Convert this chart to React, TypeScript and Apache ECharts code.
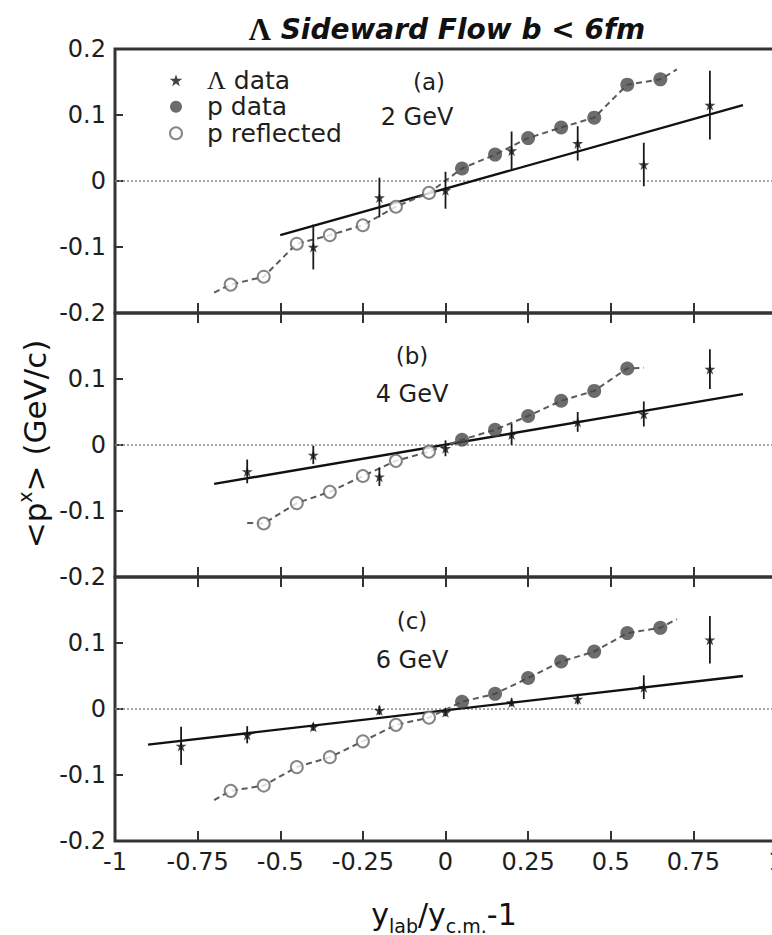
import React, { useEffect, useRef } from 'react';
import * as echarts from 'echarts';

// Axis ranges shared by all three panels
const X_RANGE = [-1, 1];
const X_STEP = 0.25;
const Y_RANGE = [-0.2, 0.2];
const Y_STEP = 0.1;

const panelTags = ['(a)', '(b)', '(c)'];
const beamEnergies = ['2 GeV', '4 GeV', '6 GeV'];
const seriesNames = ['Λ data', 'p data', 'p reflected'];

// ---- Panel (a): 2 GeV ----
const lambdaX_a = [-0.4, -0.2, 0, 0.2, 0.4, 0.6, 0.8];
const lambdaY_a = [-0.1, -0.025, -0.014, 0.046, 0.057, 0.025, 0.115];
const lambdaErr_a = [0.034, 0.03, 0.028, 0.029, 0.026, 0.033, 0.052];
const protonX_a = [0.05, 0.15, 0.25, 0.35, 0.45, 0.55, 0.65];
const protonY_a = [0.019, 0.04, 0.065, 0.081, 0.096, 0.146, 0.154];
const reflectedX_a = [-0.65, -0.55, -0.45, -0.35, -0.25, -0.15, -0.05];
const reflectedY_a = [-0.157, -0.145, -0.095, -0.082, -0.067, -0.039, -0.018];
const protonCurveEnds_a = [[-0.7, -0.169], [0.7, 0.169]];
const lambdaFit_a = [[-0.5, -0.082], [0.9, 0.115]];

// ---- Panel (b): 4 GeV ----
const lambdaX_b = [-0.6, -0.4, -0.2, 0, 0.2, 0.4, 0.6, 0.8];
const lambdaY_b = [-0.04, -0.015, -0.048, -0.005, 0.016, 0.035, 0.047, 0.115];
const lambdaErr_b = [0.018, 0.014, 0.014, 0.012, 0.016, 0.015, 0.019, 0.03];
const protonX_b = [0.05, 0.15, 0.25, 0.35, 0.45, 0.55];
const protonY_b = [0.008, 0.023, 0.044, 0.067, 0.082, 0.116];
const reflectedX_b = [-0.55, -0.45, -0.35, -0.25, -0.15, -0.05];
const reflectedY_b = [-0.119, -0.088, -0.071, -0.047, -0.024, -0.01];
const protonCurveEnds_b = [[-0.6, -0.118], [0.6, 0.117]];
const lambdaFit_b = [[-0.7, -0.059], [0.9, 0.077]];

// ---- Panel (c): 6 GeV ----
const lambdaX_c = [-0.8, -0.6, -0.4, -0.2, 0, 0.2, 0.4, 0.6, 0.8];
const lambdaY_c = [-0.056, -0.039, -0.027, -0.002, -0.005, 0.01, 0.015, 0.033, 0.105];
const lambdaErr_c = [0.029, 0.013, 0.006, 0.007, 0.006, 0.006, 0.008, 0.018, 0.036];
const protonX_c = [0.05, 0.15, 0.25, 0.35, 0.45, 0.55, 0.65];
const protonY_c = [0.011, 0.023, 0.047, 0.072, 0.087, 0.115, 0.123];
const reflectedX_c = [-0.65, -0.55, -0.45, -0.35, -0.25, -0.15, -0.05];
const reflectedY_c = [-0.124, -0.116, -0.088, -0.073, -0.049, -0.024, -0.013];
const protonCurveEnds_c = [[-0.7, -0.138], [0.7, 0.136]];
const lambdaFit_c = [[-0.9, -0.054], [0.9, 0.05]];

const panels = [
  {
    lamX: lambdaX_a, lamY: lambdaY_a, lamErr: lambdaErr_a,
    pX: protonX_a, pY: protonY_a, rX: reflectedX_a, rY: reflectedY_a,
    curveEnds: protonCurveEnds_a, fit: lambdaFit_a,
  },
  {
    lamX: lambdaX_b, lamY: lambdaY_b, lamErr: lambdaErr_b,
    pX: protonX_b, pY: protonY_b, rX: reflectedX_b, rY: reflectedY_b,
    curveEnds: protonCurveEnds_b, fit: lambdaFit_b,
  },
  {
    lamX: lambdaX_c, lamY: lambdaY_c, lamErr: lambdaErr_c,
    pX: protonX_c, pY: protonY_c, rX: reflectedX_c, rY: reflectedY_c,
    curveEnds: protonCurveEnds_c, fit: lambdaFit_c,
  },
];

// Layout (pixels)
const GRID_LEFT = 115;
const GRID_WIDTH = 661;
const PANEL_TOPS = [49, 313, 577];
const PANEL_HEIGHT = 264;
const TAG_POS = [[429, 82], [412, 356], [412, 621]];
const ENERGY_POS = [[417, 117], [412, 394], [412, 660]];

const FONT = 'DejaVu Sans';
const INK = '#1e1e1e';
const FRAME = '#333';
const STAR =
  'path://M50,0 L61,35 L98,35 L68,57 L79,91 L50,70 L21,91 L32,57 L2,35 L39,35 Z';

const zip = (xs: number[], ys: number[]) => xs.map((x, i) => [x, ys[i]]);

function buildOption() {
  const grid = PANEL_TOPS.map((top) => ({
    left: GRID_LEFT,
    top,
    width: GRID_WIDTH,
    height: PANEL_HEIGHT,
    containLabel: false,
    outerBoundsMode: 'none',
    show: true,
    borderWidth: 3,
    borderColor: FRAME,
    backgroundColor: 'transparent',
  }));

  const baseX = {
    type: 'value',
    min: X_RANGE[0],
    max: X_RANGE[1],
    interval: X_STEP,
    splitLine: { show: false },
    axisLine: { show: false, onZero: false },
  };

  const xAxis: any[] = [];
  // bottom axes
  panels.forEach((_, i) => {
    xAxis.push({
      ...baseX,
      gridIndex: i,
      position: 'bottom',
      axisTick: { show: true, inside: true, length: 10, lineStyle: { width: 2, color: FRAME } },
      axisLabel: {
        show: i === 2,
        fontFamily: FONT,
        fontSize: 24,
        color: INK,
        margin: 9,
      },
    });
  });
  // top axes
  panels.forEach((_, i) => {
    xAxis.push({
      ...baseX,
      gridIndex: i,
      position: 'top',
      axisTick: { show: i > 0, inside: true, length: 10, lineStyle: { width: 2, color: FRAME } },
      axisLabel: { show: false },
    });
  });

  const yAxis = panels.map((_, i) => ({
    type: 'value',
    gridIndex: i,
    position: 'left',
    min: Y_RANGE[0],
    max: Y_RANGE[1],
    interval: Y_STEP,
    splitLine: { show: false },
    axisLine: { show: false, onZero: false },
    axisTick: { show: true, inside: true, length: 8, lineStyle: { width: 2, color: FRAME } },
    axisLabel: {
      fontFamily: FONT,
      fontSize: 24,
      color: INK,
      margin: 9,
      showMaxLabel: i === 0,
    },
  }));

  const series: any[] = [];
  panels.forEach((p, i) => {
    const axes = { xAxisIndex: i, yAxisIndex: i };
    // y = 0 reference line
    series.push({
      type: 'line',
      ...axes,
      data: [[X_RANGE[0], 0], [X_RANGE[1], 0]],
      symbol: 'none',
      silent: true,
      z: 1,
      lineStyle: { color: '#8a8a8a', width: 1.5, type: [2, 2] },
    });
    // straight-line fit to the Λ points
    series.push({
      type: 'line',
      ...axes,
      data: p.fit,
      symbol: 'none',
      silent: true,
      z: 2,
      lineStyle: { color: '#111', width: 2.4 },
    });
    // dashed guide through the proton points
    series.push({
      type: 'line',
      ...axes,
      data: [p.curveEnds[0], ...zip(p.rX, p.rY), ...zip(p.pX, p.pY), p.curveEnds[1]],
      symbol: 'none',
      silent: true,
      z: 2,
      lineStyle: { color: '#5a5a5a', width: 2, type: [6, 4] },
    });
    // Λ error bars
    series.push({
      type: 'custom',
      name: 'Λ errors',
      ...axes,
      z: 3,
      data: p.lamX.map((x, k) => [x, p.lamY[k], p.lamErr[k]]),
      encode: { x: 0, y: 1 },
      renderItem: (_params: any, api: any) => {
        const x = api.value(0);
        const y = api.value(1);
        const e = api.value(2);
        const hi = api.coord([x, y + e]);
        const lo = api.coord([x, y - e]);
        return {
          type: 'line',
          shape: { x1: hi[0], y1: hi[1], x2: lo[0], y2: lo[1] },
          style: { stroke: '#1a1a1a', lineWidth: 1.8 },
        };
      },
    });
    // Λ points
    series.push({
      type: 'scatter',
      name: seriesNames[0],
      ...axes,
      z: 5,
      data: zip(p.lamX, p.lamY),
      symbol: STAR,
      symbolSize: 11,
      itemStyle: { color: '#141414' },
    });
    // proton data
    series.push({
      type: 'scatter',
      name: seriesNames[1],
      ...axes,
      z: 5,
      data: zip(p.pX, p.pY),
      symbol: 'circle',
      symbolSize: 14,
      itemStyle: { color: '#474747' },
    });
    // reflected protons
    series.push({
      type: 'scatter',
      name: seriesNames[2],
      ...axes,
      z: 5,
      data: zip(p.rX, p.rY),
      symbol: 'emptyCircle',
      symbolSize: 12,
      itemStyle: { color: '#666', borderWidth: 1.6 },
    });
  });

  const graphic: any[] = [
    {
      type: 'text',
      x: 447,
      y: 29,
      silent: true,
      style: {
        text: '{l|Λ} Sideward Flow b < 6fm',
        fontFamily: FONT,
        fontSize: 28,
        fontWeight: 'bold',
        fontStyle: 'italic',
        fill: '#111',
        align: 'center',
        verticalAlign: 'middle',
        rich: {
          l: {
            fontFamily: 'Liberation Serif',
            fontSize: 31,
            fontWeight: 'bold',
            fontStyle: 'normal',
            fill: '#111',
          },
        },
      },
    },
    {
      type: 'text',
      x: 35,
      y: 444,
      rotation: Math.PI / 2,
      silent: true,
      style: {
        text: '{m|<p}{s|x}{m|> (GeV/c)}',
        align: 'center',
        verticalAlign: 'middle',
        fill: '#111',
        rich: {
          m: { fontFamily: FONT, fontSize: 31, lineHeight: 40, verticalAlign: 'middle', fill: '#111' },
          s: { fontFamily: FONT, fontSize: 19, lineHeight: 40, verticalAlign: 'top', fill: '#111' },
        },
      },
    },
    {
      type: 'text',
      x: 444,
      y: 914,
      silent: true,
      style: {
        text: '{m|y}{s|lab}{m|/y}{s|c.m.}{m|-1}',
        align: 'center',
        verticalAlign: 'middle',
        fill: '#111',
        rich: {
          m: { fontFamily: FONT, fontSize: 30, lineHeight: 42, verticalAlign: 'middle', fill: '#111' },
          s: { fontFamily: FONT, fontSize: 19, lineHeight: 42, verticalAlign: 'bottom', fill: '#111' },
        },
      },
    },
  ];
  panelTags.forEach((tag, i) => {
    graphic.push({
      type: 'text',
      x: TAG_POS[i][0],
      y: TAG_POS[i][1],
      silent: true,
      style: {
        text: tag,
        fontFamily: FONT,
        fontSize: 23,
        fill: INK,
        align: 'center',
        verticalAlign: 'middle',
      },
    });
    graphic.push({
      type: 'text',
      x: ENERGY_POS[i][0],
      y: ENERGY_POS[i][1],
      silent: true,
      style: {
        text: beamEnergies[i],
        fontFamily: FONT,
        fontSize: 24,
        fill: INK,
        align: 'center',
        verticalAlign: 'middle',
      },
    });
  });

  return {
    animation: false,
    backgroundColor: '#fff',
    grid,
    xAxis,
    yAxis,
    series,
    graphic,
    legend: {
      data: seriesNames,
      orient: 'vertical',
      left: 164,
      top: 62,
      itemWidth: 52,
      itemHeight: 12,
      itemGap: 0,
      selectedMode: false,
      formatter: (name: string) => (name === seriesNames[0] ? '{l|Λ} data' : name),
      textStyle: {
        fontFamily: FONT,
        fontSize: 25,
        lineHeight: 26.5,
        color: INK,
        rich: {
          l: { fontFamily: 'Liberation Serif', fontSize: 26, lineHeight: 26.5, color: INK },
        },
      },
    },
  };
}

export default function App() {
  const ref = useRef<HTMLDivElement>(null);

  useEffect(() => {
    if (!ref.current) return;
    const chart = echarts.init(ref.current, null, { renderer: 'svg' });
    chart.setOption(buildOption() as any);
    return () => chart.dispose();
  }, []);

  return (
    <div
      ref={ref}
      style={{
        position: 'fixed',
        left: 0,
        top: 0,
        width: 772,
        height: 935,
        background: '#fff',
      }}
    />
  );
}
